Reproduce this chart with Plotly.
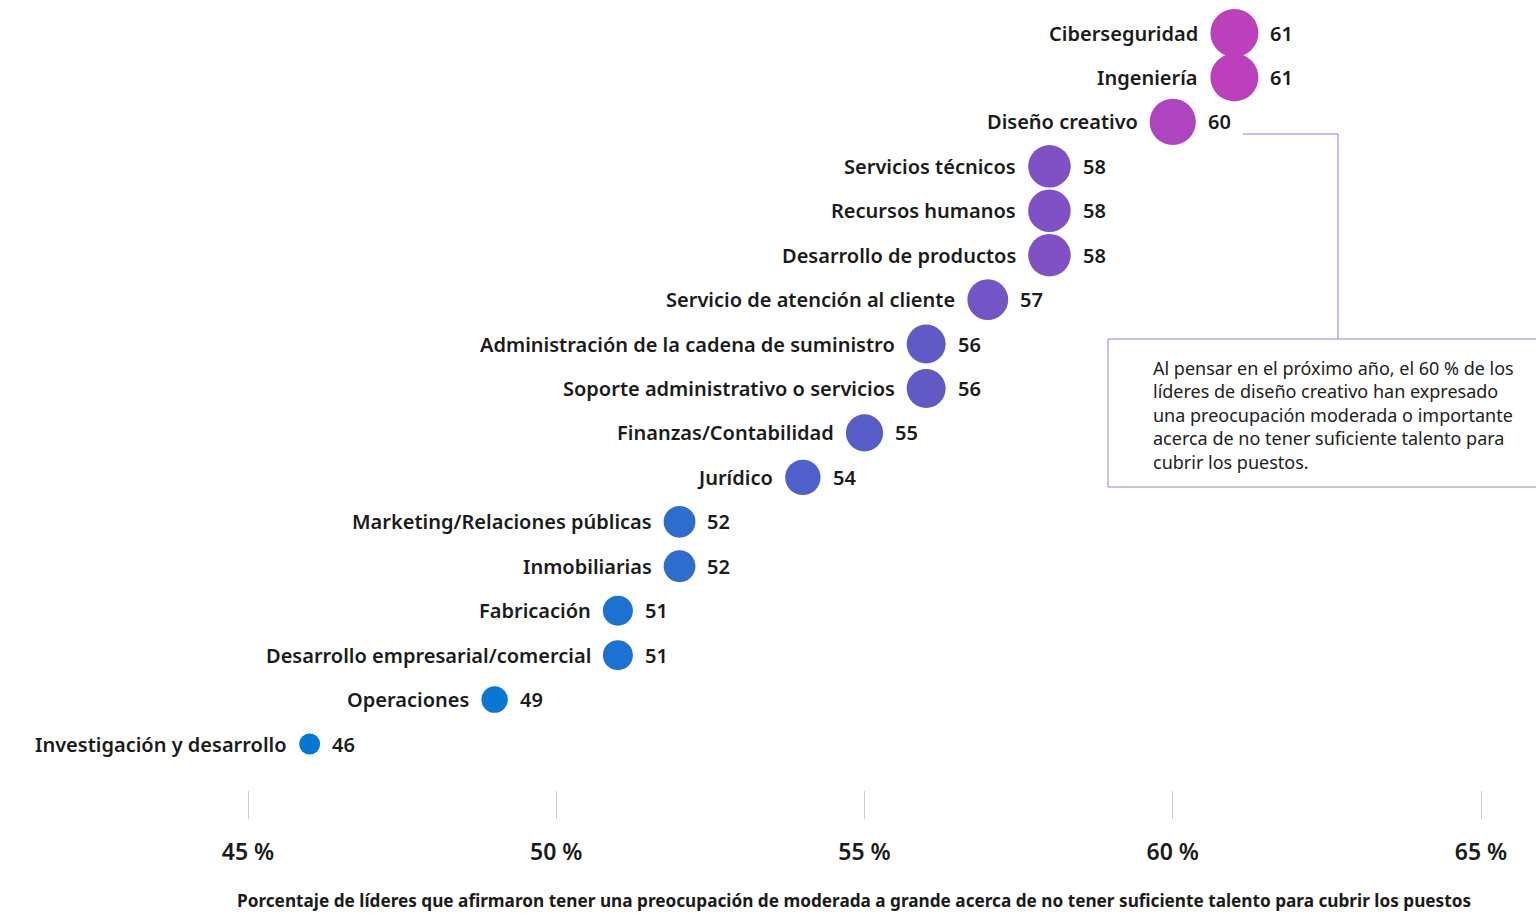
import plotly.graph_objects as go

categories = [
    "Ciberseguridad", "Ingeniería", "Diseño creativo", "Servicios técnicos",
    "Recursos humanos", "Desarrollo de productos", "Servicio de atención al cliente",
    "Administración de la cadena de suministro", "Soporte administrativo o servicios",
    "Finanzas/Contabilidad", "Jurídico", "Marketing/Relaciones públicas",
    "Inmobiliarias", "Fabricación", "Desarrollo empresarial/comercial",
    "Operaciones", "Investigación y desarrollo",
]
values = [61, 61, 60, 58, 58, 58, 57, 56, 56, 55, 54, 52, 52, 51, 51, 49, 46]
tick_vals = [45, 50, 55, 60, 65]
tick_text = ["45 %", "50 %", "55 %", "60 %", "65 %"]
x_title = ("Porcentaje de líderes que afirmaron tener una preocupación de moderada a grande "
           "acerca de no tener suficiente talento para cubrir los puestos")
callout = ("Al pensar en el próximo año, el 60 % de los<br>líderes de diseño creativo han expresado"
           "<br>una preocupación moderada o importante<br>acerca de no tener suficiente talento para"
           "<br>cubrir los puestos.")

FONT = "Noto Sans"
TXT = "#1b1b1b"
vmin, vmax = min(values), max(values)
sizes = [21 + (v - vmin) * 1.8 for v in values]

colorscale = [
    [0.0, "#0078D4"], [0.2, "#0A78D2"], [0.333, "#1C72D2"], [0.4, "#2D6DCF"],
    [0.533, "#4F5FCC"], [0.6, "#565CC8"], [0.667, "#6159C4"], [0.733, "#7455C5"],
    [0.8, "#8050C5"], [0.933, "#AE44C0"], [1.0, "#BC3FBC"],
]

fig = go.Figure()
fig.add_trace(go.Scatter(
    x=values, y=categories, mode="markers",
    marker=dict(size=sizes, color=values, colorscale=colorscale, cmin=vmin, cmax=vmax,
                line=dict(width=0), opacity=1),
    hoverinfo="skip", cliponaxis=False, showlegend=False,
))

annotations = []
for cat, v, s in zip(categories, values, sizes):
    annotations.append(dict(x=v, y=cat, xref="x", yref="y", text=cat, showarrow=False,
                            xanchor="right", yanchor="middle", xshift=-(s / 2 + 10),
                            font=dict(family=FONT, size=20, color=TXT, weight=600)))
    annotations.append(dict(x=v, y=cat, xref="x", yref="y", text=str(v), showarrow=False,
                            xanchor="left", yanchor="middle", xshift=(s / 2 + 10),
                            font=dict(family=FONT, size=20, color=TXT, weight=600)))

# plot area spans y from 10 to 790 px
def py(p):
    return (790 - p) / 780

annotations.append(dict(x=1151 / 1536, y=py(354), xref="paper", yref="paper", text=callout,
                        showarrow=False, xanchor="left", yanchor="top", align="left",
                        font=dict(family=FONT, size=18, color="#222222")))
annotations.append(dict(x=854 / 1536, y=py(900), xref="paper", yref="paper", text=x_title,
                        showarrow=False, xanchor="center", yanchor="middle",
                        font=dict(family=FONT, size=17.2, color=TXT, weight=700)))

shapes = [
    dict(type="rect", xref="paper", yref="paper", x0=1108 / 1536, x1=1.003,
         y0=py(487), y1=py(339), line=dict(color="#9B7BD8", width=1)),
    dict(type="path", xref="paper", yref="paper",
         path=f"M {1243/1536},{py(134)} L {1338/1536},{py(134)} L {1338/1536},{py(339)}",
         line=dict(color="#9B7BD8", width=1)),
]

px_per = (1481 - 248) / 20
fig.update_layout(
    width=1536, height=913,
    margin=dict(l=0, r=0, t=10, b=123),
    paper_bgcolor="white", plot_bgcolor="white",
    xaxis=dict(range=[45 - 248 / px_per, 65 + 55 / px_per], tickvals=tick_vals, ticktext=tick_text,
               showgrid=False, zeroline=False, showline=False,
               ticks="outside", ticklen=28, tickcolor="#cccccc", tickwidth=1,
               ticklabelstandoff=13,
               tickfont=dict(family=FONT, size=23, color=TXT, weight=600)),
    yaxis=dict(type="category", categoryorder="array", categoryarray=categories,
               range=[(790 - 33) / ((744 - 33) / 16), -(33 - 10) / ((744 - 33) / 16)],
               showticklabels=False, showgrid=False, zeroline=False, showline=False, ticks=""),
    annotations=annotations, shapes=shapes,
    font=dict(family=FONT, color=TXT),
)
fig.write_html("out.html", config={"displayModeBar": False},
               post_script="document.body.style.margin='0';document.body.style.overflow='hidden';")
